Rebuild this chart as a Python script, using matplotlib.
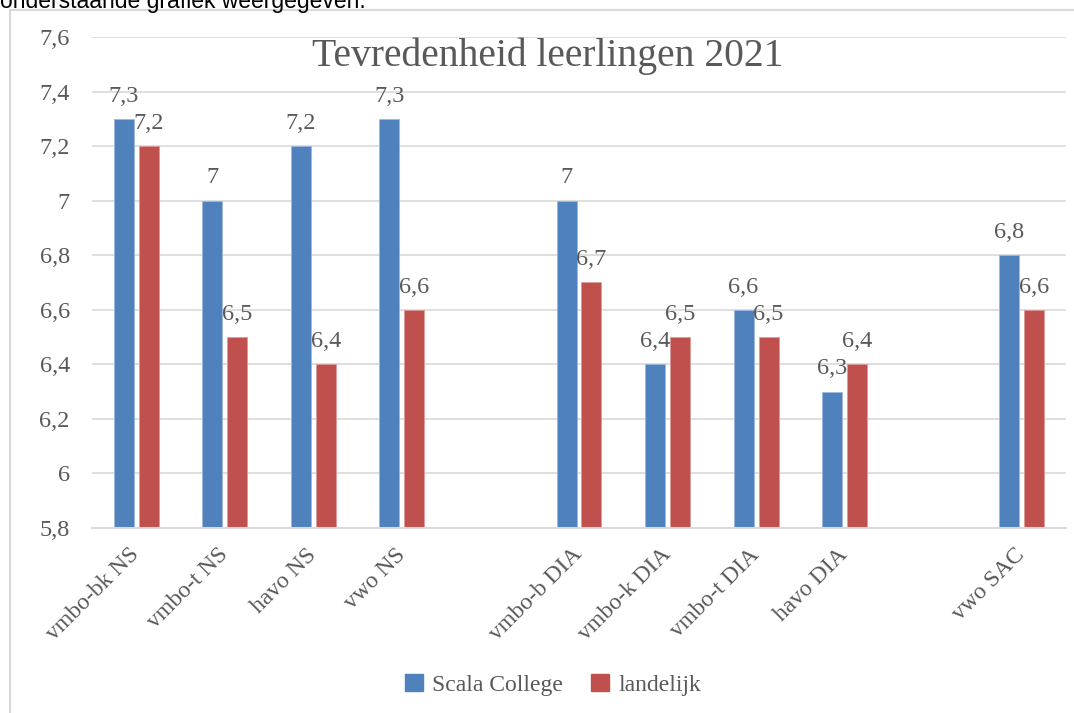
import matplotlib
matplotlib.use('Agg')
import matplotlib.pyplot as plt
from matplotlib.patches import Rectangle, Patch

categories = ['vmbo-bk NS', 'vmbo-t NS', 'havo NS', 'vwo NS', '',
              'vmbo-b DIA', 'vmbo-k DIA', 'vmbo-t DIA', 'havo DIA', '', 'vwo SAC']
scala = [7.3, 7.0, 7.2, 7.3, None, 7.0, 6.4, 6.6, 6.3, None, 6.8]
landelijk = [7.2, 6.5, 6.4, 6.6, None, 6.7, 6.5, 6.5, 6.4, None, 6.6]
series_names = ['Scala College', 'landelijk']
yticks = [5.8, 6.0, 6.2, 6.4, 6.6, 6.8, 7.0, 7.2, 7.4, 7.6]
title = 'Tevredenheid leerlingen 2021'

BLUE = '#4F81BD'
RED = '#C0504D'
GRID = '#D9D9D9'
TXT = '#595959'
FONT = 'Liberation Serif'

def fmt(v):
    s = ('%.1f' % v)
    if s.endswith('.0'):
        s = s[:-2]
    return s.replace('.', ',')

W, H = 1074, 713
fig = plt.figure(figsize=(W / 100, H / 100), dpi=100)
ax = fig.add_axes([92 / W, 1 - 528 / H, (1066 - 92) / W, (528 - 37) / H])

bw = 0.226
off = 0.141
for i, (a, b) in enumerate(zip(scala, landelijk)):
    if a is not None:
        ax.bar(i - off, a - 5.8, bottom=5.8, width=bw, color=BLUE,
               edgecolor='#9DB8DD', linewidth=0.6, zorder=3)
        ax.text(i - off, a + 0.045, fmt(a), ha='center', va='bottom',
                fontsize=17.5, color=TXT, family=FONT, zorder=4)
    if b is not None:
        ax.bar(i + off, b - 5.8, bottom=5.8, width=bw, color=RED,
               edgecolor='#DC9A98', linewidth=0.6, zorder=3)
        ax.text(i + off, b + 0.045, fmt(b), ha='center', va='bottom',
                fontsize=17.5, color=TXT, family=FONT, zorder=4)

ax.set_xlim(-0.5, len(categories) - 0.5)
ax.set_ylim(5.8, 7.6)
ax.set_yticks(yticks)
ax.set_yticklabels([fmt(v) for v in yticks], fontsize=17.5, color=TXT, family=FONT)
ax.set_xticks(range(len(categories)))
ax.set_xticklabels(categories, rotation=45, ha='right', va='center',
                   rotation_mode='anchor', fontsize=17, color=TXT, family=FONT)
ax.tick_params(axis='both', length=0)
ax.tick_params(axis='x', pad=17)
ax.tick_params(axis='y', pad=16)
ax.yaxis.grid(True, color=GRID, linewidth=1.2, zorder=0)
for s in ['top', 'right', 'left']:
    ax.spines[s].set_visible(False)
ax.spines['bottom'].set_color(GRID)
ax.spines['bottom'].set_linewidth(1.5)
ax.spines['bottom'].set_zorder(5)

fig.text(548 / W, 1 - 56 / H, title, ha='center', va='center',
         fontsize=28.5, color=TXT, family=FONT)

handles = [Patch(color=BLUE), Patch(color=RED)]
fig.legend(handles, series_names, loc='center', bbox_to_anchor=(553 / W, 1 - 685 / H),
           ncol=2, frameon=False, handlelength=0.75, handleheight=0.75,
           handletextpad=0.4, columnspacing=1.2,
           prop={'family': FONT, 'size': 17}, labelcolor=TXT)

fig.patches.append(Rectangle((10 / W, -0.1), 1.2, 1 - 10 / H + 0.1,
                             transform=fig.transFigure, fill=False,
                             edgecolor=GRID, linewidth=1.5))
fig.text(0.0, 1 - 8 / H, 'onderstaande grafiek weergegeven.', ha='left',
         va='baseline', fontsize=16.5, color='black', family='Liberation Sans')

fig.savefig('out.png', dpi=100)
